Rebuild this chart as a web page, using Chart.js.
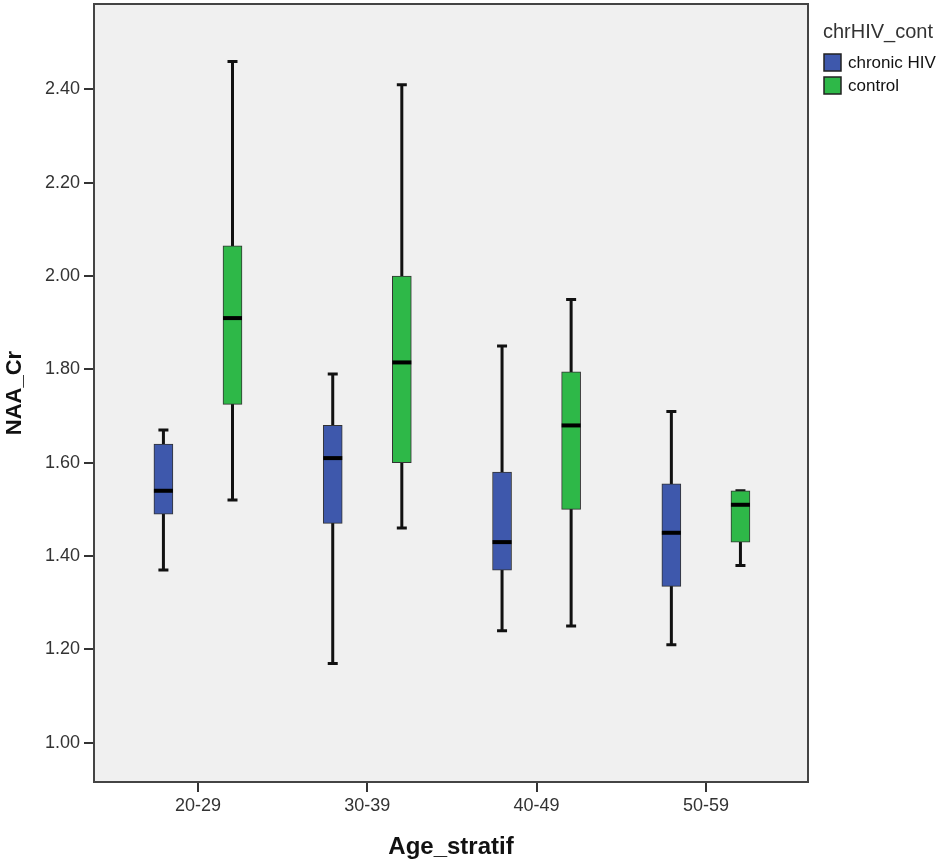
<html>
<head>
  <title>NAA_Cr by Age_stratif</title>
  <style>
    body { margin: 0; background: #ffffff; }
    #wrap { width: 950px; height: 866px; }
  </style>
</head>
<body>

<div id="wrap">
  <canvas id="boxes"></canvas>
</div>

<script src="https://cdn.jsdelivr.net/npm/chart.js@4"></script>
<script>

const ageGroups = ['20-29', '30-39', '40-49', '50-59'];
const yTicks = [1.00, 1.20, 1.40, 1.60, 1.80, 2.00, 2.20, 2.40];

// chronic HIV
const hivMin    = [1.37, 1.17, 1.24, 1.21];
const hivQ1     = [1.49, 1.47, 1.37, 1.335];
const hivMedian = [1.54, 1.61, 1.43, 1.45];
const hivQ3     = [1.64, 1.68, 1.58, 1.555];
const hivMax    = [1.67, 1.79, 1.85, 1.71];

// control
const ctrlMin    = [1.52, 1.46, 1.25, 1.38];
const ctrlQ1     = [1.725, 1.60, 1.50, 1.43];
const ctrlMedian = [1.91, 1.815, 1.68, 1.51];
const ctrlQ3     = [2.065, 2.00, 1.795, 1.54];
const ctrlMax    = [2.46, 2.41, 1.95, 1.54];

const FONT = "'Liberation Sans', Arial, sans-serif";
const SHIFT = 0.204;   // half distance between the two boxes, in category units

function boxData(q1, q3, side) {
  return q1.map((v, i) => ({ x: i + side * SHIFT, y: [v, q3[i]] }));
}

const whiskers = [
  { min: hivMin, med: hivMedian, max: hivMax },
  { min: ctrlMin, med: ctrlMedian, max: ctrlMax },
];

const plotFrame = {
  id: 'plotFrame',
  beforeDraw(chart) {
    const a = chart.chartArea;
    const ctx = chart.ctx;
    ctx.save();
    ctx.fillStyle = '#f0f0f0';
    ctx.fillRect(a.left, a.top, a.right - a.left, a.bottom - a.top);
    ctx.restore();
  },
  afterDraw(chart) {
    const a = chart.chartArea;
    const ctx = chart.ctx;
    ctx.save();
    ctx.strokeStyle = '#444';
    ctx.lineWidth = 2;
    ctx.strokeRect(a.left, a.top, a.right - a.left, a.bottom - a.top);

    // legend
    ctx.fillStyle = '#333';
    ctx.font = '20px ' + FONT;
    ctx.textBaseline = 'alphabetic';
    ctx.fillText('chrHIV_cont', 823, 38);
    ctx.font = '17px ' + FONT;
    ctx.textBaseline = 'middle';
    chart.data.datasets.forEach((ds, k) => {
      const y = 54 + k * 23;
      ctx.fillStyle = ds.backgroundColor;
      ctx.fillRect(824, y, 17, 17);
      ctx.strokeStyle = '#222';
      ctx.lineWidth = 1.5;
      ctx.strokeRect(824, y, 17, 17);
      ctx.fillStyle = '#111';
      ctx.fillText(ds.label, 848, y + 9);
    });
    ctx.restore();
  }
};

const boxWhiskers = {
  id: 'boxWhiskers',
  beforeDatasetsDraw(chart) {
    const ys = chart.scales.y;
    const ctx = chart.ctx;
    ctx.save();
    ctx.strokeStyle = '#111';
    ctx.lineWidth = 3;
    whiskers.forEach((w, k) => {
      chart.getDatasetMeta(k).data.forEach((bar, i) => {
        const top = ys.getPixelForValue(w.max[i]);
        const bottom = ys.getPixelForValue(w.min[i]);
        ctx.beginPath();
        ctx.moveTo(bar.x, top);
        ctx.lineTo(bar.x, bottom);
        ctx.moveTo(bar.x - 5, top);
        ctx.lineTo(bar.x + 5, top);
        ctx.moveTo(bar.x - 5, bottom);
        ctx.lineTo(bar.x + 5, bottom);
        ctx.stroke();
      });
    });
    ctx.restore();
  },
  afterDatasetsDraw(chart) {
    const ys = chart.scales.y;
    const ctx = chart.ctx;
    ctx.save();
    ctx.strokeStyle = '#000';
    ctx.lineWidth = 4;
    whiskers.forEach((w, k) => {
      chart.getDatasetMeta(k).data.forEach((bar, i) => {
        const y = ys.getPixelForValue(w.med[i]);
        ctx.beginPath();
        ctx.moveTo(bar.x - bar.width / 2, y);
        ctx.lineTo(bar.x + bar.width / 2, y);
        ctx.stroke();
      });
    });
    ctx.restore();
  }
};

new Chart(document.getElementById('boxes'), {
  type: 'bar',
  data: {
    datasets: [
      {
        label: 'chronic HIV',
        data: boxData(hivQ1, hivQ3, -1),
        backgroundColor: '#3e58ac',
      },
      {
        label: 'control',
        data: boxData(ctrlQ1, ctrlQ3, 1),
        backgroundColor: '#2eb848',
      }
    ],
  },
  options: {
    responsive: true,
    maintainAspectRatio: false,
    animation: false,
    layout: { padding: { top: 4, right: 142, left: 0, bottom: 0 } },
    datasets: {
      bar: {
        barThickness: 19,
        grouped: false,
        borderWidth: 1,
        borderColor: '#333',
        borderSkipped: false,
      }
    },
    plugins: {
      legend: { display: false },
      tooltip: { enabled: false },
    },
    scales: {
      x: {
        type: 'linear',
        min: -0.614,
        max: 3.603,
        offset: false,
        afterBuildTicks(scale) { scale.ticks = ageGroups.map((_, i) => ({ value: i })); },
        afterFit(scale) {
          scale.height = 84;
          scale.paddingLeft = 0;
          scale.paddingRight = 0;
        },
        grid: { offset: false, drawOnChartArea: false, tickLength: 10, color: '#333', lineWidth: 2 },
        border: { display: false },
        ticks: {
          callback: (v) => ageGroups[v],
          color: '#333',
          font: { family: FONT, size: 18 },
          padding: 3,
          maxRotation: 0,
        },
        title: {
          display: true,
          text: 'Age_stratif',
          color: '#111',
          font: { family: FONT, size: 24, weight: 'bold' },
          padding: { top: 0, bottom: 4 },
        },
      },
      y: {
        type: 'linear',
        min: 0.916,
        max: 2.583,
        afterBuildTicks(scale) { scale.ticks = yTicks.map(v => ({ value: v })); },
        afterFit(scale) {
          scale.width = 94;
          scale.paddingTop = 0;
          scale.paddingBottom = 0;
        },
        grid: { drawOnChartArea: false, tickLength: 10, color: '#333', lineWidth: 2 },
        border: { display: false },
        ticks: {
          callback: (v) => v.toFixed(2),
          color: '#333',
          font: { family: FONT, size: 18 },
          padding: 4,
        },
        title: {
          display: true,
          text: 'NAA_Cr',
          color: '#111',
          font: { family: FONT, size: 22, weight: 'bold' },
          padding: { top: 2, bottom: 0 },
        },
      }
    }
  },
  plugins: [plotFrame, boxWhiskers],
});

</script>

</body>
</html>
